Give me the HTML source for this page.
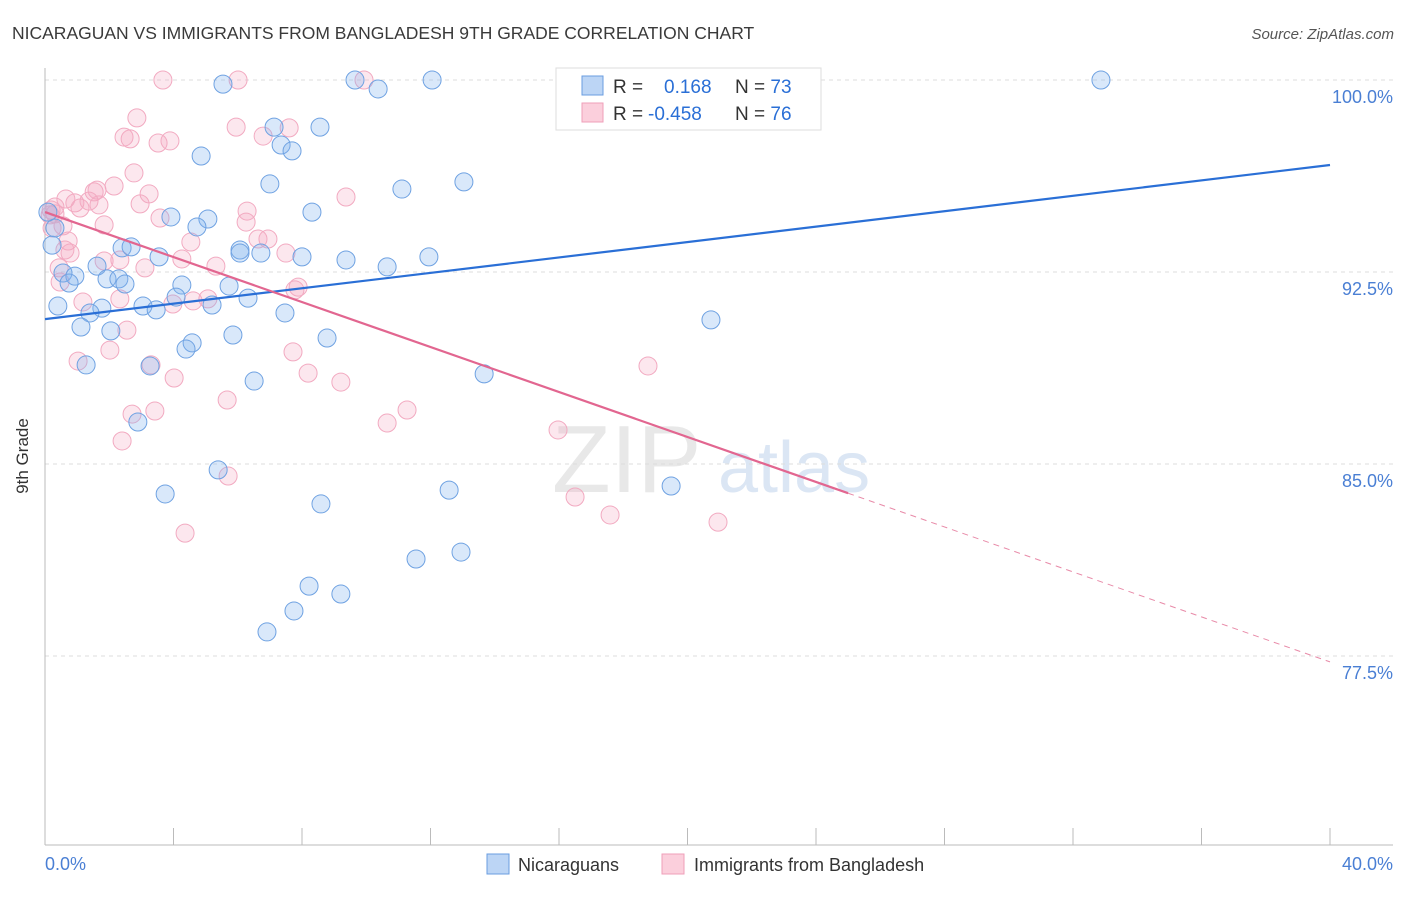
<!DOCTYPE html>
<html><head><meta charset="utf-8"><style>
body{margin:0;background:#fff;font-family:"Liberation Sans",sans-serif}
svg text{font-family:"Liberation Sans",sans-serif}
</style></head><body>
<svg id="chart" width="1406" height="892" viewBox="0 0 1406 892" xmlns="http://www.w3.org/2000/svg">
<text x="12" y="39" font-size="17.5" fill="#3a3a3a">NICARAGUAN VS IMMIGRANTS FROM BANGLADESH 9TH GRADE CORRELATION CHART</text>
<text x="1394" y="39" font-size="15" fill="#555" font-style="italic" text-anchor="end">Source: ZipAtlas.com</text>
<g>
<text x="552" y="492" font-size="96" fill="#e8e8e8" font-family="Liberation Serif,serif">ZIP</text>
<text x="718" y="492" font-size="72" fill="#dbe6f4">atlas</text>
</g>
<g id="grid"></g>
<g id="axes"></g>
<g id="points"></g>
<g id="trends"></g>
<text x="28" y="456" font-size="17" fill="#333" transform="rotate(-90 28 456)" text-anchor="middle">9th Grade</text>
<text x="45" y="870" font-size="18" fill="#4a7fd4">0.0%</text>
<text x="1393" y="870" font-size="18" fill="#4a7fd4" text-anchor="end">40.0%</text>
<g>
<rect x="556" y="68" width="265" height="62" fill="#fff" stroke="#ddd"/>
<rect x="582" y="76" width="21" height="19" fill="#bcd5f5" stroke="#6a9de0"/>
<rect x="582" y="103" width="21" height="19" fill="#fbcfdc" stroke="#ef9fb9"/>
<text x="613" y="93" font-size="19" fill="#333">R = <tspan fill="#2a6fd6" x="664">0.168</tspan><tspan fill="#333" x="735">N = </tspan><tspan fill="#2a6fd6">73</tspan></text>
<text x="613" y="120" font-size="19" fill="#333">R = <tspan fill="#2a6fd6" x="648">-0.458</tspan><tspan fill="#333" x="735">N = </tspan><tspan fill="#2a6fd6">76</tspan></text>
</g>
<g>
<rect x="487" y="854" width="22" height="20" fill="#bcd5f5" stroke="#6a9de0"/>
<text x="518" y="871" font-size="18" fill="#333">Nicaraguans</text>
<rect x="662" y="854" width="22" height="20" fill="#fbcfdc" stroke="#ef9fb9"/>
<text x="694" y="871" font-size="18" fill="#333">Immigrants from Bangladesh</text>
</g>
</svg>
<script>
const yTicks=[100,92.5,85,77.5];
const yTickLabels=["100.0%","92.5%","85.0%","77.5%"];
const blueX=[5.54,9.65,10.37,12.05,23.81,32.87,7.13,8.56,4.86,7.35,7.69,7.00,11.11,13.04,8.31,3.92,5.07,4.73,6.07,6.07,6.72,8.00,9.37,10.65,11.95,2.40,2.68,1.62,0.56,0.93,0.75,1.93,2.30,2.49,3.55,4.26,4.08,5.73,6.32,3.05,3.46,5.20,7.47,1.77,1.40,0.40,1.12,2.05,8.78,5.85,4.58,4.39,3.27,1.28,6.51,13.67,20.73,2.89,5.39,3.74,8.59,12.58,19.49,12.95,11.55,8.22,9.21,7.75,6.91,0.22,0.09,0.31];
const blueY=[99.84,100,99.65,100,100,100,98.16,98.16,97.03,97.46,97.23,95.94,95.74,96.02,94.84,94.65,94.57,94.26,93.36,93.24,93.24,93.09,92.97,92.70,93.09,93.44,93.48,92.73,92.46,92.34,92.07,92.23,92.23,92.03,93.09,91.99,91.52,91.95,91.48,91.17,91.02,91.21,90.90,91.09,90.90,91.17,90.35,90.20,89.92,90.04,89.73,89.49,88.83,88.87,88.24,88.52,90.63,86.64,84.77,83.83,83.44,83.98,84.14,81.56,81.29,80.23,79.92,79.26,78.44,93.55,94.84,94.22];
const pinkX=[3.67,6.01,9.93,2.86,2.46,2.65,3.52,3.89,5.95,7.60,6.79,2.77,1.62,2.15,1.53,3.24,0.93,0.65,1.37,0.19,0.31,2.96,9.37,6.29,3.58,6.26,1.84,0.56,6.63,6.94,4.54,0.72,0.78,4.26,1.84,3.11,5.32,0.44,7.50,7.88,7.78,5.07,1.18,2.33,4.61,3.98,0.47,2.02,1.03,3.30,4.02,8.19,9.21,7.72,5.67,2.71,3.42,11.27,10.65,2.40,2.55,15.97,16.50,17.59,20.95,18.77,5.70,4.36,0.22,0.16,1.09,0.31,1.68,0.62,2.33];
const pinkY=[100,100,100,98.52,97.77,97.70,97.54,97.62,98.16,98.13,97.81,96.37,95.70,95.86,95.63,95.55,95.20,95.35,95.27,94.92,94.77,95.16,95.43,94.88,94.61,94.45,94.34,94.30,93.79,93.79,93.67,93.71,93.24,93.01,92.93,92.66,92.73,92.66,93.24,91.91,91.80,91.45,91.33,91.45,91.37,91.25,92.11,89.45,89.02,88.87,88.36,88.55,88.20,89.38,87.50,86.95,87.07,87.11,86.60,85.90,90.23,86.33,83.71,83.01,82.73,88.83,84.53,82.30,94.22,94.73,95.00,95.04,95.12,93.36,92.97];
const blueTrend=[90.66,96.68];
const pinkTrend=[94.84,77.27];
const pinkSolidEnd=25.0;
const NS="http://www.w3.org/2000/svg";
function sx(v){return 45+v/40*1285;}
function sy(v){return 80+(100-v)/7.5*192;}
function mk(tag,attrs,parent){const e=document.createElementNS(NS,tag);for(const k in attrs)e.setAttribute(k,attrs[k]);parent.appendChild(e);return e;}
const grid=document.getElementById('grid'),axes=document.getElementById('axes'),pts=document.getElementById('points'),tr=document.getElementById('trends');
yTicks.forEach((t,i)=>{
 const l=mk('line',{x1:45,x2:1393,y1:sy(t),y2:sy(t),stroke:'#ddd','stroke-dasharray':'4 4'},grid);
 
 
 const tx=mk('text',{x:1393,y:sy(t)+23,'font-size':18,fill:'#4a7fd4','text-anchor':'end'},grid);
 tx.textContent=yTickLabels[i];
 
 
});
let a=mk('line',{x1:45,x2:45,y1:68,y2:845,stroke:'#bbb'},axes);


a=mk('line',{x1:45,x2:1393,y1:845,y2:845,stroke:'#bbb'},axes);


for(let k=0;k<=40;k+=4){
 const t=mk('line',{x1:sx(k),x2:sx(k),y1:828,y2:845,stroke:'#bbb'},axes);
 
 
}
function drawPts(X,Y,fill,stroke,name){
 X.forEach((x,i)=>{
  const c=mk('circle',{cx:sx(x),cy:sy(Y[i]),r:9,fill:fill,stroke:stroke,'stroke-width':1},pts);
  
  
 });
}
drawPts(pinkX,pinkY,'rgba(244,170,195,0.28)','#f2aac1','point-bangladesh');
drawPts(blueX,blueY,'rgba(130,178,238,0.3)','#6fa2e2','point-nicaraguan');
let ln=mk('line',{x1:sx(0),y1:sy(blueTrend[0]),x2:sx(40),y2:sy(blueTrend[1]),stroke:'#2a6fd6','stroke-width':2.2},tr);


const pe=pinkTrend[0]+(pinkTrend[1]-pinkTrend[0])*pinkSolidEnd/40;
ln=mk('line',{x1:sx(0),y1:sy(pinkTrend[0]),x2:sx(pinkSolidEnd),y2:sy(pe),stroke:'#e26690','stroke-width':2.2},tr);


ln=mk('line',{x1:sx(pinkSolidEnd),y1:sy(pe),x2:sx(40),y2:sy(pinkTrend[1]),stroke:'#e88aa8','stroke-width':1,'stroke-dasharray':'6 5'},tr);


</script>
</body></html>
